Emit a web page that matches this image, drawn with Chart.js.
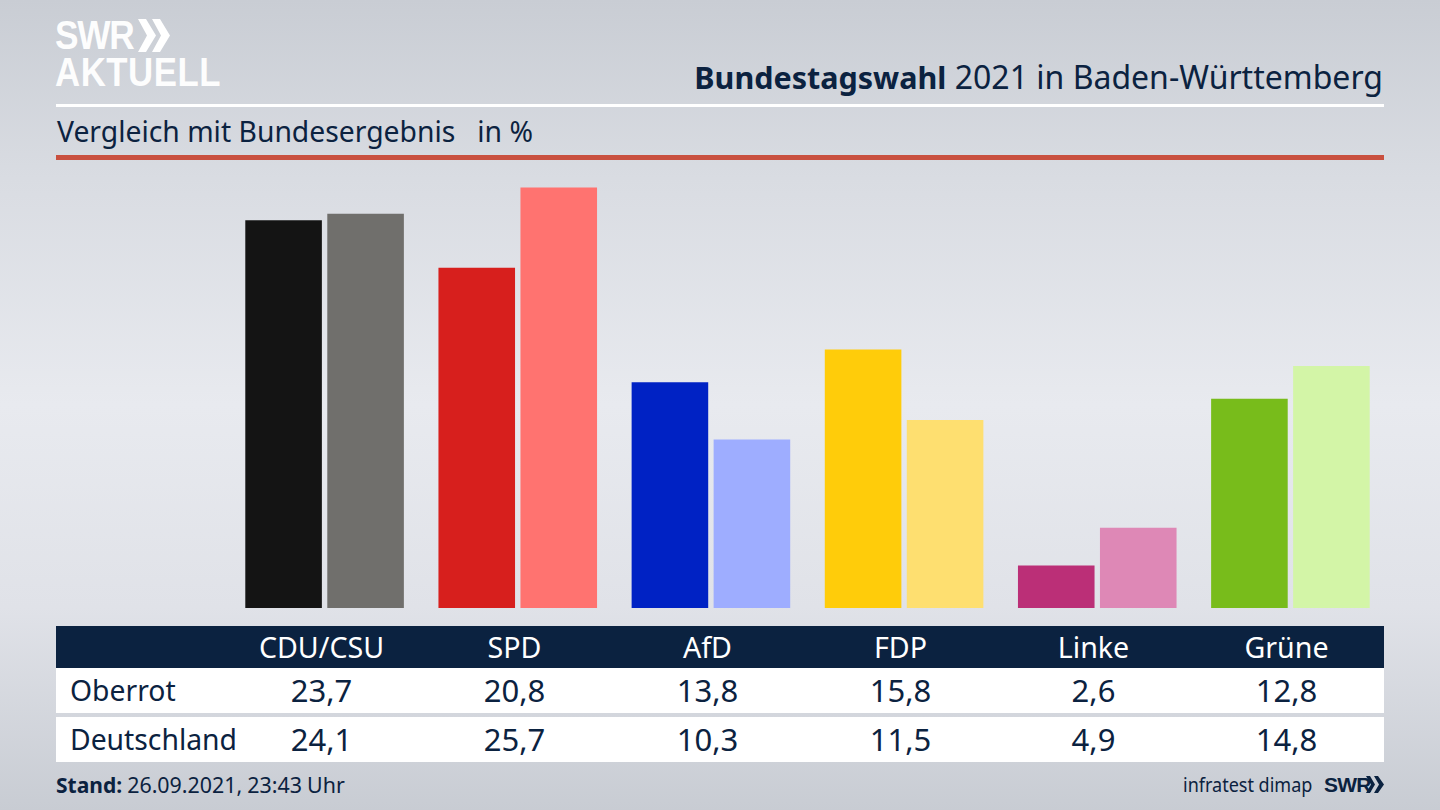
<!DOCTYPE html>
<html lang="de">
<head>
<meta charset="utf-8">
<title>Bundestagswahl 2021 in Baden-Württemberg</title>
<script src="https://cdn.jsdelivr.net/npm/chart.js@4"></script>
<style>
  html, body { margin: 0; padding: 0; }
  body {
    position: relative; width: 1440px; height: 810px; overflow: hidden;
    font-family: "Noto Sans", sans-serif; color: #0b2240;
    background: linear-gradient(180deg, #c9cdd4 0%, #d9dce2 22%, #e8eaef 50%, #e0e2e8 75%, #c8ccd3 100%);
  }
  .abs { position: absolute; white-space: nowrap; }
  #logo1, #logo2 {
    left: 55px; color: #fff; font-family: "Liberation Sans", sans-serif; font-weight: 700;
    opacity: .96; transform-origin: left top;
  }
  #logo1 { top: 13px; font-size: 41px; line-height: 44px; letter-spacing: -1.5px; transform: scaleX(.86); }
  #logo2 { top: 50px; font-size: 40px; line-height: 44px; letter-spacing: .6px; transform: scaleX(.87); }
  #title { right: 57px; top: 56px; font-size: 32px; line-height: 42px; }
  #title b { font-size: 30.5px; }
  #subtitle { left: 57px; top: 111px; font-size: 28.3px; line-height: 40px; }
  .rule { left: 56px; width: 1328px; }
  #rule1 { top: 104px; height: 3px; background: #fff; }
  #rule2 { top: 155px; height: 5px; background: #c9503f; }
  #chart { position: absolute; left: 228px; top: 150px; }
  .band { left: 56px; width: 1328px; }
  #head { top: 626px; height: 42px; background: #0b2240; }
  #row1 { top: 668px; height: 45px; background: #fff; }
  #row2 { top: 717px; height: 45px; background: #fff; }
  .cell { position: absolute; top: 0; width: 193px; text-align: center; font-size: 31px; line-height: 45px; }
  #head .cell { color: #fff; line-height: 42px; font-size: 28.6px; }
  .name { position: absolute; left: 14px; top: 0; font-size: 28.3px; line-height: 45px; }
  #stand { left: 56px; top: 770px; font-size: 21.4px; line-height: 30px; word-spacing: -.5px; }
  #stand b { font-size: 21px; }
  #source { left: 1183px; top: 770px; font-size: 20px; line-height: 30px; transform: scaleX(.9); transform-origin: left top; }
  #swr { left: 1324px; top: 770px; font-family: "Liberation Sans", sans-serif; font-weight: 700; font-size: 21px; line-height: 30px; letter-spacing: -.8px; }
</style>
</head>
<body>
<div class="abs" id="logo1">SWR</div>
<svg class="abs" style="left:138px;top:19px" width="32" height="33" viewBox="0 0 32 33">
  <path d="M0 0h8l10 16.500-10 16.500h-8l9-16.500zM14 0h8l10 16.500-10 16.500h-8l9-16.500z" fill="#fff"/>
</svg>
<div class="abs" id="logo2">AKTUELL</div>
<div class="abs" id="title"><b>Bundestagswahl</b> 2021 in Baden-Württemberg</div>
<div class="abs rule" id="rule1"></div>
<div class="abs" id="subtitle">Vergleich mit Bundesergebnis&nbsp;&nbsp; in %</div>
<div class="abs rule" id="rule2"></div>
<canvas id="chart" width="1159" height="458"></canvas>
<div class="abs band" id="head"></div>
<div class="abs band" id="row1"></div>
<div class="abs band" id="row2"></div>
<div class="abs" id="stand"><b>Stand:</b> 26.09.2021, 23:43 Uhr</div>
<div class="abs" id="source">infratest dimap</div>
<div class="abs" id="swr">SWR</div>
<svg class="abs" style="left:1366px;top:776px" width="18" height="17" viewBox="0 0 18 17">
  <path d="M0 0h4l5 8.500-5 8.500h-4l5-8.500zM8 0h4l6 8.500-6 8.500h-4l5-8.500z" fill="#0b2240"/>
</svg>

<script>
const parties = ["CDU/CSU", "SPD", "AfD", "FDP", "Linke", "Grüne"];
const oberrot = [23.7, 20.8, 13.8, 15.8, 2.6, 12.8];
const deutschland = [24.1, 25.7, 10.3, 11.5, 4.9, 14.8];
const colorsOberrot = ["#141414", "#d71f1d", "#0022c4", "#ffcc0a", "#bb2f77", "#78bc1b"];
const colorsDeutschland = ["#706f6c", "#ff7370", "#9eadff", "#fedf70", "#de88b6", "#d3f5a7"];

const fmt = (v) => v.toFixed(1).replace(".", ",");

function fillRow(id, label, cells) {
  const row = document.getElementById(id);
  if (label) {
    const name = document.createElement("span");
    name.className = "name";
    name.textContent = label;
    row.appendChild(name);
  }
  cells.forEach((text, i) => {
    const cell = document.createElement("span");
    cell.className = "cell";
    cell.style.left = 169 + 193 * i + "px";
    cell.textContent = text;
    row.appendChild(cell);
  });
}

fillRow("head", "", parties);
fillRow("row1", "Oberrot", oberrot.map(fmt));
fillRow("row2", "Deutschland", deutschland.map(fmt));

new Chart(document.getElementById("chart"), {
  type: "bar",
  data: {
    labels: parties,
    datasets: [
      { label: "Oberrot", data: oberrot, backgroundColor: colorsOberrot },
      { label: "Deutschland", data: deutschland, backgroundColor: colorsDeutschland }
    ]
  },
  options: {
    responsive: false,
    animation: false,
    layout: { padding: 0 },
    categoryPercentage: 0.849,
    barPercentage: 0.934,
    plugins: { legend: { display: false }, tooltip: { enabled: false } },
    scales: {
      x: { display: false },
      y: { display: false, min: 0, max: 28 }
    }
  }
});
</script>
</body>
</html>
